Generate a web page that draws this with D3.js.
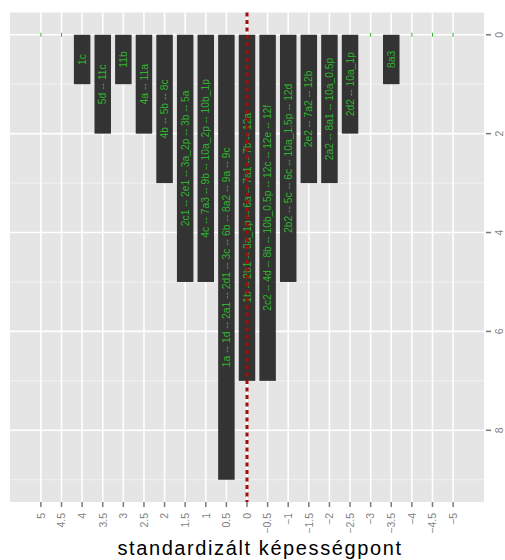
<!DOCTYPE html>
<html>
<head>
<meta charset="utf-8">
<script src="https://cdn.jsdelivr.net/npm/d3@7"></script>
<style>
  html, body { margin: 0; padding: 0; background: #ffffff; }
  svg { display: block; }
</style>
</head>
<body>
<svg id="chart" width="505" height="560"></svg>
<script>
// Score categories (standardised ability points), left to right
const scores = [5, 4.5, 4, 3.5, 3, 2.5, 2, 1.5, 1, 0.5, 0, -0.5, -1, -1.5, -2, -2.5, -3, -3.5, -4, -4.5, -5];
// Number of items falling in each score category
const counts = [0, 0, 1, 2, 1, 2, 3, 5, 5, 9, 7, 7, 5, 3, 3, 2, 0, 1, 0, 0, 0];
// Item codes listed inside each bar
const itemLabels = [
  "", "",
  "1c",
  "5d -- 11c",
  "11b",
  "4a -- 11a",
  "4b -- 5b -- 8c",
  "2c1 -- 2e1 -- 3a_2p -- 3b -- 5a",
  "4c -- 7a3 -- 9b -- 10a_2p -- 10b_1p",
  "1a -- 1d -- 2a1 -- 2d1 -- 3c -- 6b -- 8a2 -- 9a -- 9c",
  "1b -- 2b1 -- 3a_1p -- 6a -- 7a1 -- 7b -- 12a",
  "2c2 -- 4d -- 8b -- 10b_0.5p -- 12c -- 12e -- 12f",
  "2b2 -- 5c -- 6c -- 10a_1.5p -- 12d",
  "2e2 -- 7a2 -- 12b",
  "2a2 -- 8a1 -- 10a_0.5p",
  "2d2 -- 10a_1p",
  "",
  "8a3",
  "", "", ""
];
// Axis ticks
const countTicks = [0, 2, 4, 6, 8];
const countMinorTicks = [1, 3, 5, 7, 9];
const referenceScore = 0;
const axisTitle = "standardizált képességpont";

const data = scores.map((s, i) => ({ score: s, count: counts[i], label: itemLabels[i] }));

const svg = d3.select("#chart");
const panel = { left: 10, right: 484, top: 12.5, bottom: 502 };

// Score runs right-to-left, counts grow downward from the top
const x = d3.scaleLinear().domain([5.75, -5.75]).range([panel.left, panel.right]);
const y = d3.scaleLinear().domain([-0.45, 9.45]).range([panel.top, panel.bottom]);
const barWidth = Math.abs(x(0.4) - x(0));

const font = "'Liberation Sans', Arial, Helvetica, sans-serif";
const labelGreen = "#2eb52e";

// Panel background
svg.append("rect")
  .attr("x", panel.left).attr("y", panel.top)
  .attr("width", panel.right - panel.left).attr("height", panel.bottom - panel.top)
  .attr("fill", "#e5e5e5");

const grid = svg.append("g");
// Minor horizontal grid
grid.selectAll(".minor").data(countMinorTicks).join("line")
  .attr("x1", panel.left).attr("x2", panel.right)
  .attr("y1", d => y(d)).attr("y2", d => y(d))
  .attr("stroke", "#f2f2f2").attr("stroke-width", 1);
// Major horizontal grid
grid.selectAll(".hmajor").data(countTicks).join("line")
  .attr("x1", panel.left).attr("x2", panel.right)
  .attr("y1", d => y(d)).attr("y2", d => y(d))
  .attr("stroke", "#ffffff").attr("stroke-width", 1.6);
// Vertical grid at every score category
grid.selectAll(".vmajor").data(scores).join("line")
  .attr("x1", d => x(d)).attr("x2", d => x(d))
  .attr("y1", panel.top).attr("y2", panel.bottom)
  .attr("stroke", "#ffffff").attr("stroke-width", 1.6);

// Bars hanging from zero
svg.append("g").selectAll("rect").data(data.filter(d => d.count > 0)).join("rect")
  .attr("x", d => x(d.score) - barWidth / 2)
  .attr("y", y(0))
  .attr("width", barWidth)
  .attr("height", d => y(d.count) - y(0))
  .attr("fill", "#333333");

// Empty categories get a tiny marker at zero
svg.append("g").selectAll("line").data(data.filter(d => d.count === 0)).join("line")
  .attr("x1", d => x(d.score)).attr("x2", d => x(d.score))
  .attr("y1", y(0) - 2).attr("y2", y(0) + 2)
  .attr("stroke", labelGreen).attr("stroke-width", 1);

// Item codes, rotated, centred within each bar
svg.append("g").selectAll("text").data(data.filter(d => d.count > 0)).join("text")
  .attr("transform", d => `translate(${x(d.score)},${y(d.count / 2)}) rotate(-90)`)
  .attr("text-anchor", "middle")
  .attr("dy", "0.35em")
  .attr("font-family", font)
  .attr("font-size", "10.3px")
  .attr("fill", labelGreen)
  .text(d => d.label);

// Dashed reference line at score 0
svg.append("line")
  .attr("x1", x(referenceScore)).attr("x2", x(referenceScore))
  .attr("y1", panel.top).attr("y2", panel.bottom)
  .attr("stroke", "#a50d0d").attr("stroke-width", 3)
  .attr("stroke-dasharray", "4,3.5");

// Bottom axis: score ticks and labels
const fmt = v => (v < 0 ? "\u2212" + Math.abs(v) : String(v));
const bottom = svg.append("g");
bottom.selectAll("line").data(scores).join("line")
  .attr("x1", d => x(d)).attr("x2", d => x(d))
  .attr("y1", panel.bottom).attr("y2", panel.bottom + 5)
  .attr("stroke", "#7a7a7a").attr("stroke-width", 1.5);
bottom.selectAll("text").data(scores).join("text")
  .attr("transform", d => `translate(${x(d)},${panel.bottom + 11}) rotate(-90)`)
  .attr("text-anchor", "end")
  .attr("dy", "0.36em")
  .attr("font-family", font)
  .attr("font-size", "10.5px")
  .attr("fill", "#7f7f7f")
  .text(d => fmt(d));

// Right axis: counts
const right = svg.append("g");
right.selectAll("line").data(countTicks).join("line")
  .attr("x1", panel.right + 2).attr("x2", panel.right + 7)
  .attr("y1", d => y(d)).attr("y2", d => y(d))
  .attr("stroke", "#7a7a7a").attr("stroke-width", 1.5);
right.selectAll("text").data(countTicks).join("text")
  .attr("transform", d => `translate(${panel.right + 19},${y(d)}) rotate(-90)`)
  .attr("text-anchor", "middle")
  .attr("font-family", font)
  .attr("font-size", "10.5px")
  .attr("fill", "#7f7f7f")
  .text(d => d);

// Axis title
svg.append("text")
  .attr("x", 260).attr("y", 555)
  .attr("text-anchor", "middle")
  .attr("font-family", font)
  .attr("font-size", "20px")
  .attr("letter-spacing", "1.6px")
  .attr("fill", "#000000")
  .text(axisTitle);
</script>
</body>
</html>
